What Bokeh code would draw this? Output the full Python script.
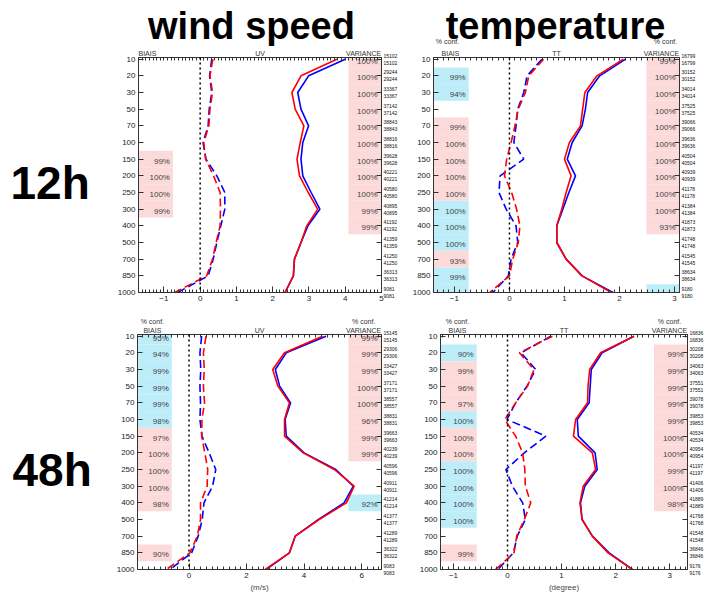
import math
from bokeh.plotting import figure
from bokeh.models import (Range1d, LinearAxis, FixedTicker, SingleIntervalTicker, Span)
from bokeh.layouts import row, column
from bokeh.embed import file_html
from bokeh.resources import INLINE
from bokeh.core.properties import value

# ---------------- data ----------------
levels = [10, 20, 30, 50, 70, 100, 150, 200, 250, 300, 400, 500, 700, 850, 1000]

# 12h wind speed (UV)
uv12_bias_blue = [0.32, 0.26, 0.32, 0.25, 0.22, 0.08, 0.16, 0.46, 0.68, 0.68, 0.57, 0.46, 0.36, 0.22, -0.62]
uv12_bias_red = [0.35, 0.27, 0.34, 0.27, 0.24, 0.10, 0.15, 0.37, 0.55, 0.56, 0.55, 0.44, 0.34, 0.18, -0.70]
uv12_std_blue = [4.00, 2.99, 2.69, 2.78, 2.99, 2.83, 2.78, 2.83, 3.06, 3.30, 2.97, 2.78, 2.60, 2.57, 2.34]
uv12_std_red = [3.77, 2.78, 2.53, 2.62, 2.86, 2.76, 2.67, 2.74, 2.98, 3.24, 2.94, 2.78, 2.60, 2.57, 2.34]
uv12_count = [15102, 29244, 33367, 37142, 38843, 38816, 39628, 40221, 40580, 40895, 41192, 41359, 41250, 36313, 9081]
uv12_bias_conf = ["", "", "", "", "", "", "99%", "100%", "100%", "99%", "", "", "", "", ""]
uv12_bias_sig = ["", "", "", "", "", "", "r", "r", "r", "r", "", "", "", "", ""]
uv12_var_conf = ["100%", "100%", "100%", "100%", "100%", "100%", "100%", "100%", "100%", "99%", "99%", "", "", "", ""]
uv12_var_sig = ["r", "r", "r", "r", "r", "r", "r", "r", "r", "r", "r", "", "", "", ""]

# 12h temperature (TT)
tt12_bias_blue = [0.59, 0.32, 0.26, 0.15, 0.12, 0.08, 0.26, -0.17, -0.19, -0.06, 0.12, 0.15, 0.03, -0.02, -0.30]
tt12_bias_red = [0.62, 0.35, 0.29, 0.16, 0.10, 0.03, -0.05, -0.09, 0.04, 0.13, 0.19, 0.16, 0.06, 0.00, -0.36]
tt12_std_blue = [2.11, 1.64, 1.42, 1.38, 1.32, 1.14, 1.05, 1.20, 1.08, 0.97, 0.86, 0.86, 1.03, 1.32, 1.88]
tt12_std_red = [2.07, 1.59, 1.37, 1.33, 1.29, 1.09, 1.00, 1.12, 1.03, 0.95, 0.86, 0.86, 1.03, 1.32, 1.85]
tt12_count = [16799, 30152, 34014, 37525, 39066, 39636, 40504, 40939, 41178, 41384, 41873, 41748, 41545, 38634, 9180]
tt12_bias_conf = ["", "99%", "94%", "", "99%", "100%", "100%", "100%", "100%", "100%", "100%", "100%", "93%", "99%", "98%"]
tt12_bias_sig = ["", "b", "b", "", "r", "r", "r", "r", "r", "b", "b", "b", "r", "b", "b"]
tt12_var_conf = ["99%", "100%", "100%", "100%", "100%", "100%", "100%", "100%", "100%", "100%", "93%", "", "", "", "96%"]
tt12_var_sig = ["r", "r", "r", "r", "r", "r", "r", "r", "r", "r", "r", "", "", "", "b"]

# 48h wind speed (UV)
uv48_bias_blue = [0.44, 0.38, 0.41, 0.38, 0.40, 0.38, 0.45, 0.70, 0.93, 0.82, 0.52, 0.46, 0.32, 0.09, -0.66]
uv48_bias_red = [0.59, 0.50, 0.53, 0.50, 0.54, 0.45, 0.44, 0.55, 0.65, 0.63, 0.40, 0.40, 0.29, 0.03, -0.79]
uv48_std_blue = [4.76, 3.38, 3.00, 3.15, 3.53, 3.34, 3.38, 4.00, 5.10, 5.71, 5.39, 4.50, 3.69, 3.49, 2.68]
uv48_std_red = [4.64, 3.32, 2.91, 3.09, 3.49, 3.32, 3.32, 3.97, 5.05, 5.74, 5.47, 4.52, 3.69, 3.49, 2.65]
uv48_count = [15145, 29306, 33427, 37171, 38557, 38831, 39663, 40239, 40596, 40911, 41214, 41377, 41289, 36322, 9083]
uv48_bias_conf = ["95%", "94%", "99%", "99%", "99%", "98%", "97%", "100%", "100%", "100%", "98%", "", "", "90%", ""]
uv48_bias_sig = ["b", "b", "b", "b", "b", "b", "r", "r", "r", "r", "r", "", "", "r", ""]
uv48_var_conf = ["99%", "99%", "99%", "100%", "100%", "96%", "99%", "99%", "", "", "92%", "", "", "", ""]
uv48_var_sig = ["r", "r", "r", "r", "r", "r", "r", "r", "", "", "b", "", "", "", ""]

# 48h temperature (TT)
tt48_bias_blue = [0.80, 0.25, 0.52, 0.36, 0.15, -0.01, 0.71, 0.31, -0.03, 0.09, 0.28, 0.33, 0.18, 0.11, -0.18]
tt48_bias_red = [0.83, 0.22, 0.49, 0.37, 0.15, -0.05, 0.15, 0.28, 0.32, 0.33, 0.43, 0.31, 0.17, 0.12, -0.22]
tt48_std_blue = [2.34, 1.75, 1.55, 1.53, 1.51, 1.29, 1.31, 1.62, 1.66, 1.43, 1.35, 1.38, 1.57, 1.88, 2.31]
tt48_std_red = [2.34, 1.72, 1.52, 1.49, 1.48, 1.26, 1.22, 1.57, 1.63, 1.40, 1.34, 1.38, 1.57, 1.86, 2.31]
tt48_count = [16836, 30208, 34063, 37551, 39078, 39853, 40534, 40954, 41197, 41406, 41889, 41768, 41548, 36846, 9176]
tt48_bias_conf = ["", "90%", "99%", "96%", "97%", "100%", "100%", "100%", "100%", "100%", "100%", "100%", "", "99%", ""]
tt48_bias_sig = ["", "b", "r", "r", "r", "b", "r", "r", "b", "b", "b", "b", "", "r", ""]
tt48_var_conf = ["", "99%", "99%", "99%", "99%", "99%", "100%", "100%", "99%", "100%", "98%", "", "", "", ""]
tt48_var_sig = ["", "r", "r", "r", "r", "r", "r", "r", "r", "r", "r", "", "", "", ""]

titles_top = ["wind speed", "temperature"]
titles_left = ["12h", "48h"]

# ---------------- styling ----------------
FONT = "Liberation Sans"
BIG = "Liberation Sans"
SIG_COLORS = {"r": "#fcdada", "b": "#bcedf9"}
AX = "#333333"


def make_panel(var_label, unit_label, bias_blue, bias_red, std_blue, std_red, counts,
               bias_conf, bias_sig, var_conf, var_sig, cfg):
    n = len(levels)
    idx = list(range(n))
    x0, x1 = cfg["xr"]
    p = figure(width=cfg["w"], height=cfg["h"],
               x_range=Range1d(x0, x1), y_range=Range1d(n - 1, -0.1),
               output_backend="svg", toolbar_location=None,
               min_border_left=cfg["bl"], min_border_right=cfg["br"],
               min_border_top=cfg["bt"], min_border_bottom=cfg["bb"])
    p.xgrid.visible = False
    p.ygrid.visible = False
    p.outline_line_color = AX

    # confidence boxes (left = bias, right = variance)
    L, R, T, B, C = [], [], [], [], []
    for i, s in enumerate(bias_sig):
        if s:
            L.append(x0 - 1); R.append(cfg["cut_l"]); T.append(i - 0.5); B.append(i + 0.5)
            C.append(SIG_COLORS[s])
    for i, s in enumerate(var_sig):
        if s:
            L.append(cfg["cut_r"]); R.append(x1 + 1); T.append(i - 0.5); B.append(i + 0.5)
            C.append(SIG_COLORS[s])
    p.quad(left=L, right=R, top=T, bottom=B, fill_color=C, line_color=None)

    p.text(x=[cfg["cut_l"]] * n, y=idx, text=bias_conf, x_offset=-3, y_offset=2,
           text_align="right", text_baseline="middle", text_font_size="8px",
           text_font=value(FONT), text_color="#444444")
    p.text(x=[x1] * n, y=idx, text=var_conf, x_offset=-4, y_offset=2,
           text_align="right", text_baseline="middle", text_font_size="8px",
           text_font=value(FONT), text_color="#444444")

    p.add_layout(Span(location=0, dimension="height", line_color="black",
                      line_dash="2 3", line_width=1.5))

    p.line(x=std_blue, y=idx, line_color="#0000ff", line_width=1.6)
    p.line(x=std_red, y=idx, line_color="#ff0000", line_width=1.6)
    p.line(x=bias_blue, y=idx, line_color="#0000ff", line_width=1.6, line_dash="8 4")
    p.line(x=bias_red, y=idx, line_color="#ff0000", line_width=1.6, line_dash="8 4")

    # bottom axis
    xb = p.xaxis[0]
    xb.ticker = SingleIntervalTicker(interval=cfg["step"], num_minor_ticks=10)
    xb.major_label_overrides = {-1: "\u22121"}
    xb.major_tick_in = 6; xb.major_tick_out = 0
    xb.minor_tick_in = 3; xb.minor_tick_out = 0
    xb.major_label_standoff = 3
    xb.major_label_text_font_size = "8px"
    xb.major_label_text_font = FONT
    xb.major_label_text_color = "#222222"
    xb.axis_line_color = AX
    xb.major_tick_line_color = AX
    xb.minor_tick_line_color = AX
    if unit_label:
        xb.axis_label = unit_label
        xb.axis_label_text_font_size = "8px"
        xb.axis_label_text_font = FONT
        xb.axis_label_text_font_style = "normal"
        xb.axis_label_standoff = 2

    # top axis: header labels as tick labels, regular minor ticks
    fw = cfg["w"] - cfg["bl"] - cfg["br"]
    upp = (x1 - x0) / fw
    xb_c = round(x0 + cfg["hb"] * upp, 4)
    xm_c = round((x0 + x1) / 2, 4)
    xv_c = round(x1 - 18 * upp, 4)
    st = cfg["step"] / 10
    k = math.ceil(x0 / st)
    minor = []
    while k * st <= x1:
        minor.append(round(k * st, 4))
        k += 1
    pre = "% conf.\n" if cfg["conf"] else ""
    xt = LinearAxis(ticker=FixedTicker(ticks=[xb_c, xm_c, xv_c], minor_ticks=minor),
                    major_label_overrides={xb_c: pre + "BIAIS", xm_c: var_label,
                                           xv_c: pre + "VARIANCE"},
                    major_tick_in=0, major_tick_out=0, minor_tick_in=3, minor_tick_out=0,
                    major_label_text_font_size="7px", major_label_text_font=FONT,
                    major_label_text_color="#333333", major_label_standoff=1,
                    axis_line_color=AX, minor_tick_line_color=AX)
    p.add_layout(xt, "above")

    # left axis: pressure levels
    yl = p.yaxis[0]
    yl.ticker = FixedTicker(ticks=idx)
    yl.major_label_overrides = {i: str(lv) for i, lv in enumerate(levels)}
    yl.major_tick_in = 5; yl.major_tick_out = 0
    yl.major_label_standoff = 3
    yl.major_label_text_font_size = "8px"
    yl.major_label_text_font = FONT
    yl.major_label_text_color = "#222222"
    yl.axis_line_color = AX
    yl.major_tick_line_color = AX

    # right axis: number of data
    yr = LinearAxis(ticker=FixedTicker(ticks=idx),
                    major_label_overrides={i: f"{c}\n{c}" for i, c in enumerate(counts)},
                    major_tick_in=5, major_tick_out=0, major_label_standoff=2,
                    major_label_text_font_size="5px", major_label_text_font=FONT,
                    major_label_text_color="#111111",
                    axis_line_color=AX, major_tick_line_color=AX)
    p.add_layout(yr, "right")
    return p


cfg1 = dict(w=300, h=264, bl=38, br=17, bt=9, bb=18, xr=(-1.7, 5.0), step=1,
            cut_l=-0.75, cut_r=4.09, conf=False, hb=9)
cfg2 = dict(w=308, h=264, bl=33, br=29, bt=10, bb=15, xr=(-1.38, 3.09), step=1,
            cut_l=-0.74, cut_r=2.49, conf=False, hb=17)
cfg3 = dict(w=300, h=284, bl=37, br=17, bt=24, bb=20, xr=(-1.79, 6.69), step=2,
            cut_l=-0.6, cut_r=5.54, conf=True, hb=15)
cfg4 = dict(w=308, h=284, bl=40, br=21, bt=23, bb=20, xr=(-1.24, 3.33), step=1,
            cut_l=-0.57, cut_r=2.71, conf=True, hb=17)

p1 = make_panel("UV", None, uv12_bias_blue, uv12_bias_red, uv12_std_blue, uv12_std_red,
                uv12_count, uv12_bias_conf, uv12_bias_sig, uv12_var_conf, uv12_var_sig, cfg1)
p2 = make_panel("TT", None, tt12_bias_blue, tt12_bias_red, tt12_std_blue, tt12_std_red,
                tt12_count, tt12_bias_conf, tt12_bias_sig, tt12_var_conf, tt12_var_sig, cfg2)
p3 = make_panel("UV", "(m/s)", uv48_bias_blue, uv48_bias_red, uv48_std_blue, uv48_std_red,
                uv48_count, uv48_bias_conf, uv48_bias_sig, uv48_var_conf, uv48_var_sig, cfg3)
p4 = make_panel("TT", "(degree)", tt48_bias_blue, tt48_bias_red, tt48_std_blue, tt48_std_red,
                tt48_count, tt48_bias_conf, tt48_bias_sig, tt48_var_conf, tt48_var_sig, cfg4)

# header strip (column titles + "% conf." of the 12h temperature panel)
hdr = figure(width=708, height=46, x_range=Range1d(0, 708), y_range=Range1d(46, 0),
             output_backend="svg", toolbar_location=None,
             x_axis_location=None, y_axis_location=None, min_border=0)
hdr.outline_line_color = None
hdr.xgrid.visible = False
hdr.ygrid.visible = False
hdr.text(x=[447, 665], y=[41, 41], text=["% conf.", "% conf."], text_align="center",
         text_baseline="middle", text_font_size="7px", text_font=value(FONT),
         text_color="#333333")
hdr.text(x=[251, 555], y=[25, 25], text=titles_top, text_align="center",
         text_baseline="alphabetic", text_font_size="38px", text_font=value(BIG),
         text_font_style="bold", text_color="black")

# left strip (forecast ranges)
lft = figure(width=100, height=548, x_range=Range1d(0, 100), y_range=Range1d(548, 0),
             output_backend="svg", toolbar_location=None,
             x_axis_location=None, y_axis_location=None, min_border=0)
lft.outline_line_color = None
lft.xgrid.visible = False
lft.ygrid.visible = False
lft.text(x=[10, 12], y=[136, 423], text=titles_left, text_align="left",
         text_baseline="alphabetic", text_font_size="46px", text_font=value(BIG),
         text_font_style="bold", text_color="black")

layout = column(hdr, row(lft, column(row(p1, p2), row(p3, p4))))
open("out.html", "w").write(file_html(layout, INLINE))
